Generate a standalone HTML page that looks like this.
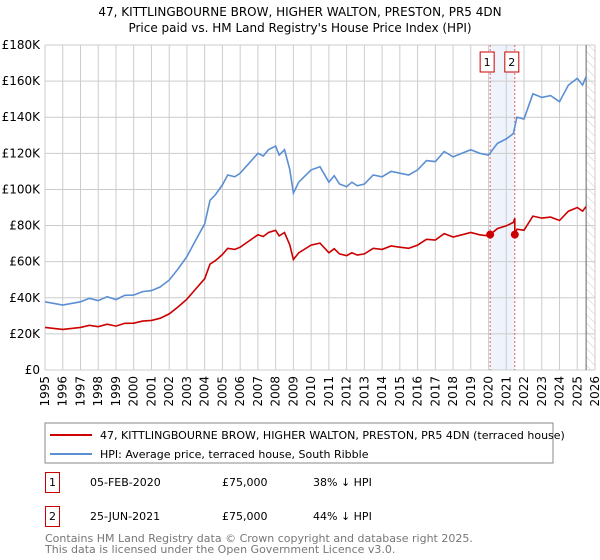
<!DOCTYPE html>
<html><head><meta charset="utf-8"><style>
body{margin:0;background:#fff;font-family:"DejaVu Sans","Liberation Sans",sans-serif;}
#wrap{position:relative;width:600px;height:560px;overflow:hidden}
svg text{font-family:"DejaVu Sans","Liberation Sans",sans-serif}
</style></head><body><div id="wrap">
<svg id="chart" width="600" height="560">
<text x="300" y="16" text-anchor="middle" font-size="12">47, KITTLINGBOURNE BROW, HIGHER WALTON, PRESTON, PR5 4DN</text>
<text x="300" y="32" text-anchor="middle" font-size="12">Price paid vs. HM Land Registry's House Price Index (HPI)</text>
<g id="grid"></g><g id="marks"></g><g id="axes"></g>
<rect x="45" y="423" width="508" height="40" fill="#fff" stroke="#888"/>
<line x1="50" y1="435" x2="92" y2="435" stroke="#cc0000" stroke-width="2"/>
<text x="100" y="439" font-size="11">47, KITTLINGBOURNE BROW, HIGHER WALTON, PRESTON, PR5 4DN (terraced house)</text>
<line x1="50" y1="454" x2="92" y2="454" stroke="#5b8fd4" stroke-width="2"/>
<text x="100" y="458" font-size="11">HPI: Average price, terraced house, South Ribble</text>
<g>
<rect x="45.5" y="472.5" width="14" height="20" fill="#fff" stroke="#cc0000"/>
<text x="52.5" y="486" font-size="11" text-anchor="middle">1</text>
<text x="90" y="486" font-size="11">05-FEB-2020</text>
<text x="222" y="486" font-size="11">£75,000</text>
<text x="313" y="486" font-size="11">38% ↓ HPI</text></g>
<g>
<rect x="45.5" y="506.5" width="14" height="20" fill="#fff" stroke="#cc0000"/>
<text x="52.5" y="520" font-size="11" text-anchor="middle">2</text>
<text x="90" y="520" font-size="11">25-JUN-2021</text>
<text x="222" y="520" font-size="11">£75,000</text>
<text x="313" y="520" font-size="11">44% ↓ HPI</text></g>
<text x="45" y="542" font-size="11" fill="#777">Contains HM Land Registry data © Crown copyright and database right 2025.</text>
<text x="45" y="553" font-size="11" fill="#777">This data is licensed under the Open Government Licence v3.0.</text>
</svg></div>
<script>
const hpiYears=[1995,1996,1997,1997.5,1998,1998.5,1999,1999.5,2000,2000.5,2001,2001.5,2002,2002.5,2003,2003.5,2004,2004.3,2004.6,2005,2005.3,2005.7,2006,2006.5,2007,2007.3,2007.6,2008,2008.2,2008.5,2008.8,2009,2009.3,2010,2010.5,2011,2011.3,2011.6,2012,2012.3,2012.6,2013,2013.5,2014,2014.5,2015,2015.5,2016,2016.5,2017,2017.5,2018,2018.5,2019,2019.5,2020,2020.5,2021,2021.4,2021.6,2022,2022.5,2023,2023.5,2024,2024.5,2025,2025.3,2025.5];
const hpiValues=[37.8,36,37.8,39.7,38.4,40.6,39,41.4,41.5,43.4,44,46,49.8,56,62.8,72,81,94,97,102.5,108,107,109,114.5,120,118.5,122,124,119,122,111,98,104,110.8,112.6,104,107.6,103,101.5,104,102,103,108,107,110,109,108,110.8,116,115.4,121,118,120,122,120,119,125.5,128,131,140,139,153,151,152,148.6,157.8,161.5,157.8,162.5];
const saleDates=[2020.09,2021.48];
const salePrices=[75,75];
const yTicks=[0,20,40,60,80,100,120,140,160,180];
const xTicks=[1995,1996,1997,1998,1999,2000,2001,2002,2003,2004,2005,2006,2007,2008,2009,2010,2011,2012,2013,2014,2015,2016,2017,2018,2019,2020,2021,2022,2023,2024,2025,2026];
const NS='http://www.w3.org/2000/svg';
const L=45,R=595,T=45,B=370;
const x=v=>L+(v-1995)/(2026-1995)*(R-L);
const y=v=>B-v/180*(B-T);
function mk(tag,attrs,parent){const e=document.createElementNS(NS,tag);for(const k in attrs)e.setAttribute(k,attrs[k]);parent.appendChild(e);return e;}
const grid=document.getElementById('grid'),marks=document.getElementById('marks'),axes=document.getElementById('axes');
// hatch for future
const defs=mk('defs',{},grid);
const pat=mk('pattern',{id:'hatch',width:6,height:6,patternUnits:'userSpaceOnUse',patternTransform:'rotate(-45)'},defs);
mk('line',{x1:0,y1:0,x2:0,y2:6,stroke:'#ccc','stroke-width':1},pat);
const lastX=hpiYears[hpiYears.length-1];
const hz=mk('rect',{x:x(lastX),y:T,width:R-x(lastX),height:B-T,fill:'url(#hatch)'},grid);


const sh=mk('rect',{x:x(saleDates[0]),y:T,width:x(saleDates[1])-x(saleDates[0]),height:B-T,fill:'#eef3fc'},grid);


yTicks.forEach(t=>{
 mk('line',{x1:L,x2:R,y1:y(t),y2:y(t),stroke:'#ccc'},grid);
 const tx=mk('text',{x:L-5,y:y(t)+4,'text-anchor':'end','font-size':12},axes);tx.textContent='£'+(t===0?'0':t+'K');
 
 
});
xTicks.forEach(t=>{
 mk('line',{x1:x(t),x2:x(t),y1:T,y2:B,stroke:'#ccc'},grid);
 const tx=mk('text',{x:0,y:0,'text-anchor':'end','font-size':12,transform:`translate(${x(t)+4},${B+6}) rotate(-90)`},axes);tx.textContent=t;
 
 
});
const vl=mk('line',{x1:x(lastX),x2:x(lastX),y1:T,y2:B,stroke:'#666'},grid);


// sale vlines & labels
saleDates.forEach((d,i)=>{
 mk('line',{x1:x(d),x2:x(d),y1:T,y2:B,stroke:'#e06060','stroke-dasharray':'2,2'},grid);
 const g=mk('g',{},axes);
 
 
 const off=i===0?-5:-4;
 mk('rect',{x:x(d)-7+(i===0?-3:-3),y:52,width:14,height:20,fill:'#fff',stroke:'#cc0000'},g);
 const t=mk('text',{x:x(d)-3,y:66,'text-anchor':'middle','font-size':11},g);t.textContent=i+1;
});
// HPI line
const hp=mk('path',{d:hpiYears.map((v,i)=>(i?'L':'M')+x(v).toFixed(1)+','+y(hpiValues[i]).toFixed(1)).join(''),fill:'none',stroke:'#5b8fd4','stroke-width':1.6},marks);


// property line: indexed by HPI from each sale
function hpiAt(t){for(let i=1;i<hpiYears.length;i++){if(t<=hpiYears[i]){const f=(t-hpiYears[i-1])/(hpiYears[i]-hpiYears[i-1]);return hpiValues[i-1]+f*(hpiValues[i]-hpiValues[i-1]);}}return hpiValues[hpiValues.length-1];}
const r1=salePrices[0]/hpiAt(saleDates[0]),r2=salePrices[1]/hpiAt(saleDates[1]);
let pts=[];
hpiYears.forEach((yr,i)=>{if(yr<saleDates[1])pts.push([yr,hpiValues[i]*r1]);});
pts.push([saleDates[1],hpiAt(saleDates[1])*r1]);pts.push([saleDates[1],salePrices[1]]);
hpiYears.forEach((yr,i)=>{if(yr>saleDates[1])pts.push([yr,hpiValues[i]*r2]);});
const pp=mk('path',{d:pts.map((p,i)=>(i?'L':'M')+x(p[0]).toFixed(1)+','+y(p[1]).toFixed(1)).join(''),fill:'none',stroke:'#cc0000','stroke-width':1.6},marks);


saleDates.forEach((d,i)=>{
 const c=mk('circle',{cx:x(d),cy:y(salePrices[i]),r:4,fill:'#cc0000'},marks);
 
 
});
</script></body></html>
